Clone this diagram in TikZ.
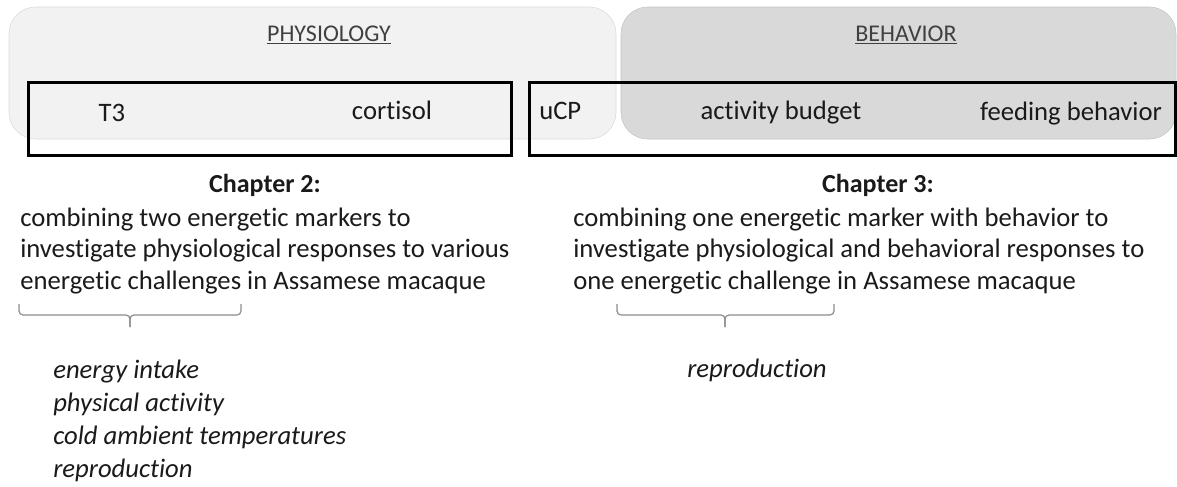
\documentclass[tikz,border=0pt]{standalone}
\usepackage{fontspec}
\setmainfont{Carlito}[Ligatures={NoCommon}]
\usetikzlibrary{positioning,fit}
\definecolor{physfill}{HTML}{F2F2F2}
\definecolor{physline}{HTML}{DADADA}
\definecolor{behavfill}{HTML}{D9D9D9}
\definecolor{behavline}{HTML}{C4C4C4}
\definecolor{bracegray}{HTML}{8C8C8C}
\definecolor{headgray}{HTML}{404040}
\definecolor{txtgray}{HTML}{1A1A1A}

\begin{document}
\begin{tikzpicture}[
    x=0.75pt, y=-0.75pt,
    grp/.style ={
        rounded corners=20pt,
        inner sep=0pt
    },
    chap/.style ={
        draw=black,
        line width=2.25pt,
        inner sep=0pt
    },
    head/.style ={
        inner sep=0pt,
        anchor=base,
        headgray,
        font=\fontsize{18}{22}\selectfont
    },
    lbl/.style ={
        inner sep=0pt,
        anchor=base,
        txtgray,
        font=\fontsize{20}{24}\selectfont
    },
    txt/.style ={
        inner sep=0pt,
        anchor=north west,
        align=left,
        txtgray,
        font=\fontsize{20}{23.6}\selectfont
    },
    lst/.style ={
        inner sep=0pt,
        anchor=north west,
        align=left,
        txtgray,
        font=\fontsize{20}{24.75}\selectfont\itshape
    },
    brc/.style ={
        draw=bracegray,
        line width=0.9pt,
        rounded corners=3pt
    }
    ]
    \useasboundingbox (0,0) rectangle (1177,486);

    \node[grp, fill=physfill, draw=physline, fit={(9,7) (616,139)}] (physio) {};
    \node[grp, fill=behavfill, draw=behavline, fit={(621,7) (1176,139)}] (behav) {};

    \node[head] (physhead) at (329,41) {\underline{PHYSIOLOGY}};
    \node[head] (behavhead) at (906,41) {\underline{BEHAVIOR}};

    \node[lbl] (t3) at (112,121) {T3};
    \node[lbl] (cortisol) at (392,119) {cortisol};
    \node[lbl, anchor=base west] (ucp) at (539,119) {uCP};
    \node[lbl] (budget) at (781,119) {activity budget};
    \node[lbl] (feeding) at (1071,120) {feeding behavior};

    \node[chap, fit={(28,82) (511,155)}] (ch2box) {};
    \node[chap, fit={(529,82) (1175,155)}] (ch3box) {};

    \node[lbl, font=\fontsize{19.5}{24}\selectfont\bfseries] (ch2head) at (265,192) {Chapter 2:};
    \node[lbl, font=\fontsize{19.5}{24}\selectfont\bfseries] (ch3head) at (878,192) {Chapter 3:};

    \node[txt] (ch2text) at (20,204) {\strut combining two energetic markers to\\
        investigate physiological responses to various\\
        energetic challenges in Assamese macaque};
    \node[txt] (ch3text) at (573,204) {\strut combining one energetic marker with behavior to\\
        investigate physiological and behavioral responses to\\
        one energetic challenge in Assamese macaque};

    \coordinate (b2l) at (19,304);
    \coordinate (b2r) at (241,304);
    \coordinate (b2m) at (130,315);
    \coordinate (b2t) at (130,327);
    \coordinate (b3l) at (617,304);
    \coordinate (b3r) at (834,304);
    \coordinate (b3m) at (725,315);
    \coordinate (b3t) at (725,327);
    \draw[brc] (b2l) |- (b2m) -- (b2t);
    \draw[brc] (b2t) -- (b2m) -| (b2r);
    \draw[brc] (b3l) |- (b3m) -- (b3t);
    \draw[brc] (b3t) -- (b3m) -| (b3r);

    \node[lst] (ch2list) at (53,355) {\strut energy intake\\
        physical activity\\
        cold ambient temperatures\\
        reproduction};
    \node[lbl, font=\fontsize{20}{24}\selectfont\itshape] (ch3list) at (757,377) {reproduction};
\end{tikzpicture}
\end{document}
